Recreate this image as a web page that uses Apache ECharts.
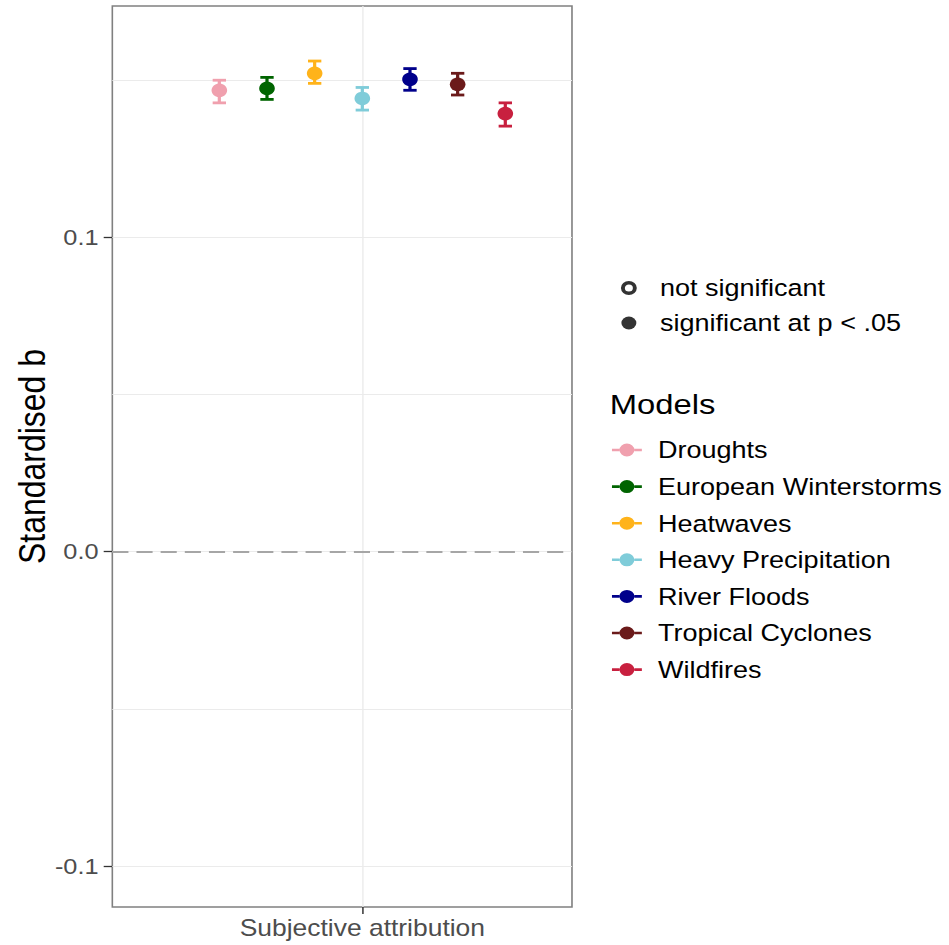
<!DOCTYPE html>
<html>
<head>
<meta charset="utf-8">
<title>Standardised b by model</title>
<script src="https://cdn.jsdelivr.net/npm/echarts@6/dist/echarts.min.js"></script>
<style>
  html, body { margin: 0; padding: 0; background: #fff; overflow: hidden; }
  /* the plot is laid out on a narrower canvas and widened to the page */
  #chart { width: 825px; height: 945px; transform: scaleX(1.1503); transform-origin: 0 0; }
</style>
</head>
<body>
<div id="chart"></div>
<script>
// ---- data ----
const models = ['Droughts', 'European Winterstorms', 'Heatwaves', 'Heavy Precipitation',
                'River Floods', 'Tropical Cyclones', 'Wildfires'];
const modelColors = ['#F0A0AE', '#006400', '#FFB31A', '#7FCCD9', '#00008B', '#6B1A1A', '#C8203F'];
const estimates = [0.1467, 0.1473, 0.1521, 0.1441, 0.1502, 0.1486, 0.1393];
const lower     = [0.1427, 0.1438, 0.1489, 0.1404, 0.1467, 0.1452, 0.1353];
const upper     = [0.1499, 0.1508, 0.1560, 0.1476, 0.1536, 0.1521, 0.1427];
const significant = [true, true, true, true, true, true, true];
const xCategories = ['Subjective attribution'];
const yTicks = [-0.1, 0.0, 0.1];
const yMinorGrid = [-0.05, 0.05, 0.15];
const sigLabels = ['not significant', 'significant at p < .05'];

const FONT = '"Liberation Sans", Arial, sans-serif';

// legend keys: a point-range (line + dot) and plain dots; the lone move
// to x=35 reserves room so the label starts clear of the key
const rangeIcon = 'path://M0,5.2 L6.5,5.2 L6.5,7.8 L0,7.8 Z M19.5,5.2 L26,5.2 L26,7.8 L19.5,7.8 Z ' +
                  'M13,0 A6.5,6.5 0 1,1 13,13 A6.5,6.5 0 1,1 13,0 Z M35,6.5';
const openDotIcon = 'path://M0,0 M35,13 M13,1.3 A5.2,5.2 0 1,1 13,11.7 A5.2,5.2 0 1,1 13,1.3 Z';
const fullDotIcon = 'path://M0,0 M35,13 M13,0 A6.5,6.5 0 1,1 13,13 A6.5,6.5 0 1,1 13,0 Z';

// point-range: error bar with caps and a dot
function renderRange(params, api) {
  const x = api.value(0);
  const c = api.coord([x, api.value(1)]);
  const lo = api.coord([x, api.value(2)]);
  const hi = api.coord([x, api.value(3)]);
  const col = api.visual('color');
  const sig = api.value(4) === 1;
  const cap = 5.8;
  const lw = 2.8;
  return {
    type: 'group',
    children: [
      { type: 'line', shape: { x1: c[0], y1: lo[1], x2: c[0], y2: hi[1] }, style: { stroke: col, lineWidth: lw } },
      { type: 'line', shape: { x1: c[0] - cap, y1: lo[1], x2: c[0] + cap, y2: lo[1] }, style: { stroke: col, lineWidth: lw } },
      { type: 'line', shape: { x1: c[0] - cap, y1: hi[1], x2: c[0] + cap, y2: hi[1] }, style: { stroke: col, lineWidth: lw } },
      { type: 'circle', shape: { cx: c[0], cy: c[1], r: 6.8 },
        style: { fill: sig ? col : '#fff', stroke: col, lineWidth: sig ? 0 : 2.5 } }
    ]
  };
}

const n = models.length;
const modelSeries = models.map((name, i) => ({
  type: 'custom',
  name: name,
  coordinateSystem: 'cartesian2d',
  itemStyle: { color: modelColors[i] },
  // dodge the models side by side around the single category
  data: [[i - (n - 1) / 2, estimates[i], lower[i], upper[i], significant[i] ? 1 : 0]],
  encode: { x: 0, y: [1, 2, 3] },
  renderItem: renderRange,
  z: 5
}));

const gridLineStyle = { color: '#EBEBEB', width: 1.2, type: 'solid' };

const option = {
  animation: false,
  backgroundColor: '#fff',
  textStyle: { fontFamily: FONT },
  grid: {
    left: 97.65, top: 6, width: 399.6, height: 901,
    outerBoundsMode: 'none', containLabel: false,
    show: true, borderColor: '#808080', borderWidth: 1.4, backgroundColor: '#fff'
  },
  title: {
    text: 'Models', left: 530, top: 390, padding: 0,
    textStyle: { fontSize: 28.5, fontWeight: 'normal', color: '#000', fontFamily: FONT }
  },
  legend: [
    {
      data: [
        { name: sigLabels[0], icon: openDotIcon, itemStyle: { color: '#fff', borderColor: '#000', borderWidth: 3.4 } },
        { name: sigLabels[1], icon: fullDotIcon, itemStyle: { color: '#000', borderWidth: 0 } }
      ],
      orient: 'vertical', left: 532, top: 276, padding: 0,
      itemWidth: 35, itemHeight: 13, itemGap: 11,
      selectedMode: false,
      textStyle: { fontSize: 23.5, lineHeight: 24, color: '#000', fontFamily: FONT }
    },
    {
      data: models,
      orient: 'vertical', left: 532, top: 438, padding: 0,
      icon: rangeIcon,
      itemWidth: 35, itemHeight: 13, itemGap: 12.6,
      selectedMode: false,
      textStyle: { fontSize: 23.5, lineHeight: 24, color: '#000', fontFamily: FONT }
    }
  ],
  xAxis: {
    type: 'value', min: -5.245, max: 4.399,
    axisLine: { show: false, onZero: false },
    splitLine: { show: false },
    axisTick: { show: true, customValues: [0], length: 7, lineStyle: { color: '#333', width: 1.3 } },
    axisLabel: {
      customValues: [0], formatter: () => xCategories[0],
      fontSize: 23, color: '#4D4D4D', margin: 10, fontFamily: FONT
    }
  },
  yAxis: {
    type: 'value', min: -0.113, max: 0.1735,
    axisLine: { show: false, onZero: false },
    splitLine: { show: false },
    axisTick: { show: true, customValues: yTicks, length: 7.5, lineStyle: { color: '#333', width: 1.3 } },
    axisLabel: {
      customValues: yTicks, formatter: v => v.toFixed(1),
      fontSize: 22, color: '#4D4D4D', margin: 12, fontFamily: FONT
    },
    name: 'Standardised b', nameLocation: 'middle', nameGap: 54, nameRotate: 90,
    nameTextStyle: { fontSize: 32, color: '#000', fontFamily: FONT }
  },
  series: [
    {
      // panel grid lines
      type: 'line', name: '_grid', data: [], silent: true, z: 1,
      markLine: {
        silent: true, symbol: 'none', label: { show: false },
        lineStyle: gridLineStyle,
        data: yTicks.concat(yMinorGrid).map(v => ({ yAxis: v })).concat([{ xAxis: 0 }])
      }
    },
    {
      // dashed reference line at zero
      type: 'line', name: '_zero', data: [], silent: true, z: 2,
      markLine: {
        silent: true, symbol: 'none', label: { show: false },
        lineStyle: { color: '#A6A6A6', width: 2, type: [14, 7] },
        data: [{ yAxis: 0 }]
      }
    },
    { type: 'scatter', name: sigLabels[0], data: [] },
    { type: 'scatter', name: sigLabels[1], data: [] }
  ].concat(modelSeries)
};

const chart = echarts.init(document.getElementById('chart'), null, { renderer: 'svg' });
chart.setOption(option);
</script>
</body>
</html>
